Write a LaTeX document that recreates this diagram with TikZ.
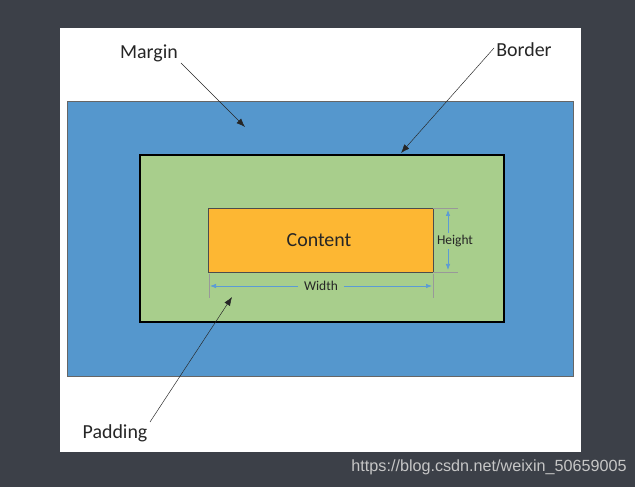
\documentclass[tikz,border=0pt]{standalone}
\usepackage{fontspec}
\setmainfont{Carlito}
\newfontfamily\urlfont{Liberation Sans}
\usepackage{tikz}
\usetikzlibrary{positioning,arrows.meta}
\definecolor{framegray}{HTML}{3C4048}
\definecolor{marginblue}{HTML}{5597CD}
\definecolor{padgreen}{HTML}{A8CE8C}
\definecolor{contentorange}{HTML}{FDB733}
\definecolor{dimblue}{HTML}{5B9BD5}
\tikzset{
  pointer/.style={-{Latex[length=2.6mm]}, thin, black!85},
  dimhead/.style={-{Latex[length=1.8mm]}, dimblue, semithick},
  extline/.style={gray!80, thin},
  boxlabel/.style={font=\fontsize{17}{19}\selectfont, text=black!85, inner sep=1pt},
  dimlabel/.style={font=\fontsize{11.5}{13}\selectfont, text=black!85, inner sep=2pt}
}
\begin{document}
\begin{tikzpicture}[x=0.03cm, y=-0.03cm]
  \useasboundingbox (0,0) rectangle (635,487);
  \fill[framegray] (0,0) rectangle (635,487);
  \fill[white] (60,28) rectangle (581,452);
  % the three boxes
  \draw[fill=marginblue, draw=black!60] (67,101) rectangle (573,376);
  \draw[fill=padgreen, draw=black, line width=1.6pt] (140,155) rectangle (504,322);
  \draw[fill=contentorange, draw=black!70] (208,208) rectangle (433,272);
  \node[boxlabel] (content) at (319,240) {Content};
  % height dimension
  \coordinate (htop) at (448,210);
  \coordinate (hbot) at (448,270);
  \draw[extline] (433,208) -- (458,208);
  \draw[extline] (433,272) -- (458,272);
  \node[dimlabel] (height) at (455,241) {Height};
  \draw[dimhead] (height.north -| htop) -- (htop);
  \draw[dimhead] (height.south -| hbot) -- (hbot);
  % width dimension
  \draw[extline] (209,274) -- (209,298);
  \draw[extline] (433,274) -- (433,298);
  \node[dimlabel, inner xsep=5pt] (width) at (321,286) {Width};
  \coordinate (wleft) at (210,286);
  \coordinate (wright) at (432,286);
  \draw[dimhead] (width.west) -- (wleft);
  \draw[dimhead] (width.east) -- (wright);
  % labels and pointers
  \node[boxlabel] (margin) at (149,53) {Margin};
  \node[boxlabel] (border) at (524,50) {Border};
  \node[boxlabel] (padding) at (115,433) {Padding};
  \coordinate (margintip) at (245,127);
  \coordinate (bordertip) at (401,153);
  \coordinate (paddingtip) at (232,297);
  \draw[pointer] (181,63) -- (margintip);
  \draw[pointer] (494,48) -- (bordertip);
  \draw[pointer] (150,422) -- (paddingtip);
  \node[font=\urlfont\fontsize{13.8}{15}\selectfont, text=gray!45] (url) at (489,467) {https://blog.csdn.net/weixin\_50659005};
\end{tikzpicture}
\end{document}
